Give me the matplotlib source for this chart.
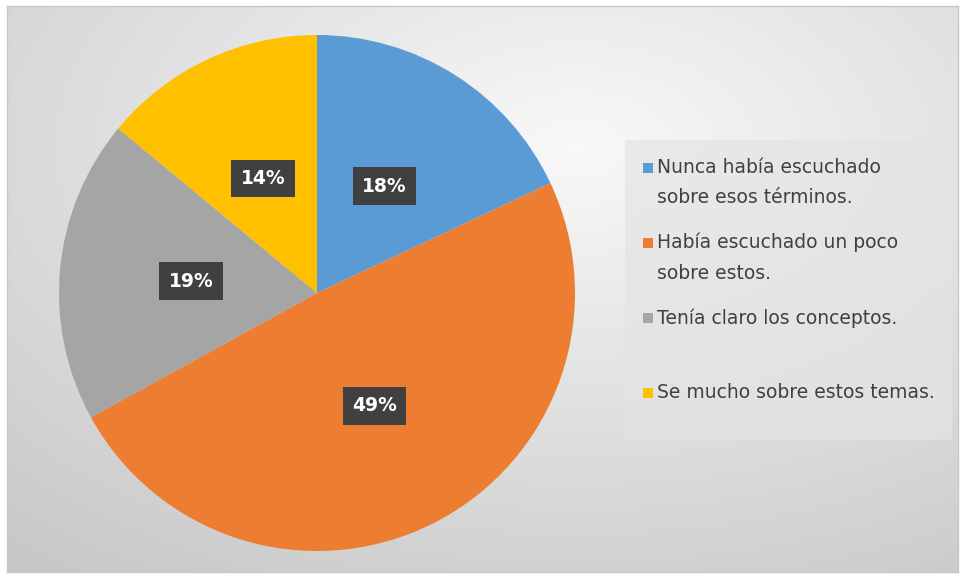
import numpy as np
import matplotlib
matplotlib.use("Agg")
from matplotlib import pyplot as plt
from matplotlib.patches import Rectangle

# Datos de la encuesta
categorias = ["Nunca había escuchado\nsobre esos términos.",
              "Había escuchado un poco\nsobre estos.",
              "Tenía claro los conceptos.",
              "Se mucho sobre estos temas."]
porcentajes = [18, 49, 19, 14]
colores = ["#5B9BD5", "#ED7D31", "#A5A5A5", "#FFC000"]

fig = plt.figure(figsize=(9.61, 5.78), dpi=100)
fig.patch.set_facecolor("white")

# Fondo con degradado radial (área del gráfico)
bg = fig.add_axes([7/961, 6/578, 951/961, 566/578])
yy, xx = np.mgrid[-1:1:300j, -1:1:500j]
r = np.sqrt(((xx - 0.2) * 1.0) ** 2 + ((yy + 0.5) * 1.0) ** 2)
r = np.clip(r / 1.9, 0, 1)
c0 = np.array([0.975, 0.975, 0.975])
c1 = np.array([0.78, 0.78, 0.78])
img = c0[None, None, :] * (1 - r[..., None]) + c1[None, None, :] * r[..., None]
bg.imshow(img, aspect="auto", extent=[0, 1, 0, 1])
bg.set_xticks([])
bg.set_yticks([])
for s in bg.spines.values():
    s.set_color("#C8C8C8")
    s.set_linewidth(1)

# Pastel
cx, cy, rad = 317, 293, 258
ax = fig.add_axes([(cx - rad)/961, (578 - cy - rad)/578, 2*rad/961, 2*rad/578])
wedges, textos = ax.pie(porcentajes, colors=colores, startangle=90, counterclock=False,
                        labels=[f"{p}%" for p in porcentajes], labeldistance=0.49,
                        wedgeprops=dict(linewidth=0))
for t in textos:
    t.set_color("white")
    t.set_fontsize(13.5)
    t.set_fontweight("bold")
    t.set_ha("center")
    t.set_va("center")
    t.set_bbox(dict(boxstyle="square,pad=0.5", facecolor="#404040", edgecolor="none"))
ax.set_aspect("equal")
ax.set_xlim(-1, 1)
ax.set_ylim(-1, 1)

# Leyenda
fig.patches.append(Rectangle((625/961, (578-440)/578), 327/961, 300/578,
                             transform=fig.transFigure, facecolor="#E4E4E4",
                             edgecolor="none", alpha=0.7, zorder=1))
posiciones_y = [168, 243, 318, 393]
for etiqueta, color, py in zip(categorias, colores, posiciones_y):
    fig.patches.append(Rectangle((643/961, (578 - py - 5)/578), 10/961, 10/578,
                                 transform=fig.transFigure, facecolor=color,
                                 edgecolor="none", zorder=3))
    fig.text(657/961, (578 - py + 10)/578, etiqueta, color="#404040", fontsize=13.5,
             va="top", ha="left", linespacing=1.75, transform=fig.transFigure)

fig.savefig("out.png", dpi=100)
